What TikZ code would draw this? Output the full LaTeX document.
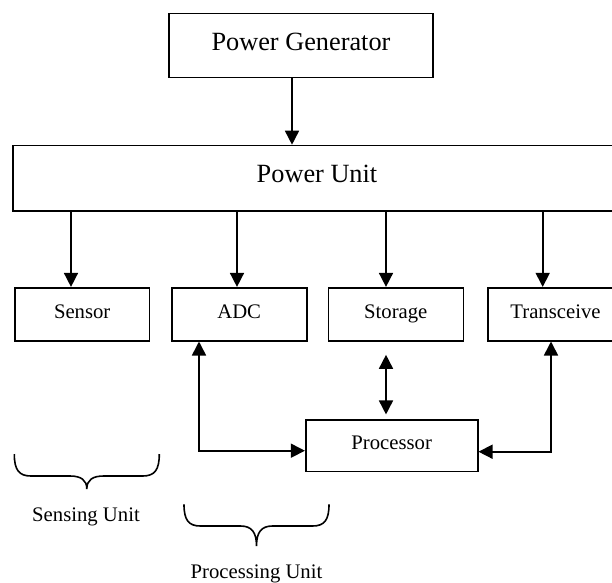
\documentclass[tikz,border=0pt]{standalone}
\usepackage{fontspec}
\setmainfont{Liberation Serif}
\usetikzlibrary{arrows.meta,calc}
\begin{document}
\begin{tikzpicture}[x=1pt,y=-1pt,
  box/.style={draw,line width=1.6pt,inner sep=0pt},
  big/.style={font=\fontsize{26.3}{30}\selectfont,text height=17.4pt,text depth=8pt},
  small/.style={font=\fontsize{20.7}{24}\selectfont,text height=13.7pt,text depth=5.5pt},
  lbl/.style={font=\fontsize{20.7}{24}\selectfont,inner sep=0pt,anchor=base},
  tip/.tip={Triangle[length=14pt,width=14pt]},
  arr/.style={line width=1.6pt,-tip},
  darr/.style={line width=1.6pt,tip-tip},
  brace/.style={line width=1.6pt}]
\useasboundingbox (0,0) rectangle (612,582);
\clip (0,0) rectangle (612,582);
% boxes
\node[box,big,minimum width=264pt,minimum height=64pt] (pg) at (301,45.3) {Power Generator};
\node[box,big,minimum width=608.6pt,minimum height=65.5pt] (pu) at (317,178.25) {Power Unit};
\node[box,small,minimum width=134.3pt,minimum height=53pt] (sen) at (82.2,314.2) {Sensor};
\node[box,small,minimum width=135pt,minimum height=53pt] (adc) at (239.2,314.2) {ADC};
\node[box,small,minimum width=135pt,minimum height=53pt] (sto) at (395.8,314.2) {Storage};
\node[box,small,minimum width=135pt,minimum height=53pt] (tr) at (555.5,314.2) {Transceive};
\node[box,small,minimum width=172pt,minimum height=51.7pt] (proc) at (391.7,445.8) {Processor};
% x positions of connectors
\coordinate (xpg) at (292,0);
\coordinate (xsen) at (71,0);
\coordinate (xadc) at (237,0);
\coordinate (xsto) at (386,0);
\coordinate (xtr) at (542.7,0);
\coordinate (ya) at (199,450.7);
\coordinate (yt) at (551,451.7);
% connectors
\draw[arr] (pg.south -| xpg) -- (pu.north -| xpg);
\draw[arr] (pu.south -| xsen) -- (sen.north -| xsen);
\draw[arr] (pu.south -| xadc) -- (adc.north -| xadc);
\draw[arr] (pu.south -| xsto) -- (sto.north -| xsto);
\draw[arr] (pu.south -| xtr) -- (tr.north -| xtr);
\draw[darr] (adc.south -| ya) |- (proc.west |- ya);
\draw[darr,shorten <=13.3pt,shorten >=4.7pt] (sto.south -| xsto) -- (proc.north -| xsto);
\draw[darr] (tr.south -| yt) |- (proc.east |- yt);
% braces
\draw[brace] (14.3,454) .. controls (14.3,470) and (19,476) .. (31,476) -- (70,476)
  .. controls (81,476) and (86.8,480) .. (86.8,489)
  .. controls (86.8,480) and (92.6,476) .. (103.6,476) -- (142.6,476)
  .. controls (154.6,476) and (159.3,470) .. (159.3,454);
\draw[brace] (184,504.3) .. controls (184,520) and (188.5,526) .. (200.5,526) -- (240.5,526)
  .. controls (251.5,526) and (256.5,532) .. (256.5,546)
  .. controls (256.5,532) and (261.5,526) .. (272.5,526) -- (312.5,526)
  .. controls (324.5,526) and (329,520) .. (329,504.3);
% labels
\node[lbl] (sl) at (86,521.7) {Sensing Unit};
\node[lbl] (pl) at (256.5,578.5) {Processing Unit};
\end{tikzpicture}
\end{document}
